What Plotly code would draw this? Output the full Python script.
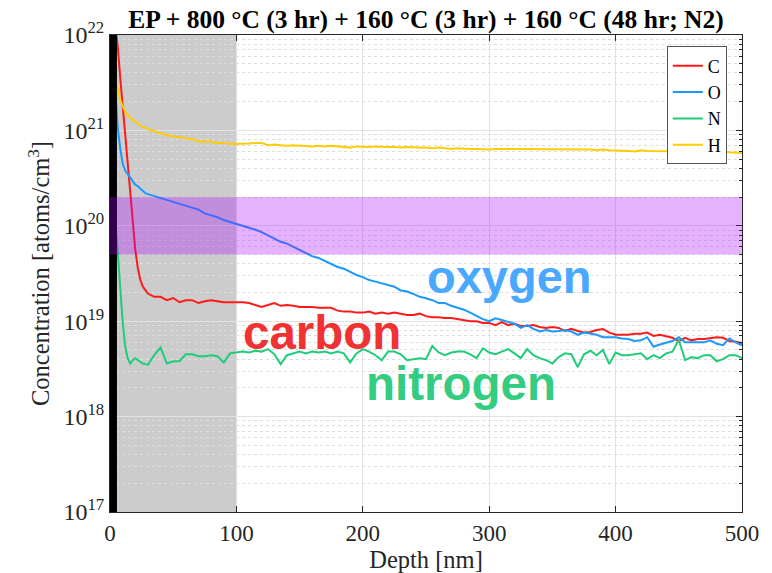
import plotly.graph_objects as go

# Depth grid [nm]
depth = [0, 2, 4, 6, 8, 10, 12, 14, 16, 18, 20, 22, 24, 26, 28, 30] + list(range(35, 505, 5))

carbon = [2e22, 1.8e22, 1.3e22, 7.9e21, 3.7e21, 1.9e21, 9.8e20, 4.6e20, 2.2e20, 1.2e20,
          5.6e19, 3.6e19, 2.7e19, 2.3e19, 2.1e19, 1.95e19,
          1.8e19, 1.8e19, 1.66e19, 1.75e19, 1.58e19, 1.66e19, 1.66e19, 1.55e19, 1.62e19, 1.66e19,
          1.62e19, 1.58e19, 1.58e19, 1.58e19,
          1.58e19, 1.55e19, 1.48e19, 1.41e19, 1.48e19, 1.55e19, 1.45e19, 1.48e19, 1.45e19, 1.41e19,
          1.41e19, 1.41e19, 1.38e19, 1.38e19, 1.38e19, 1.29e19, 1.26e19, 1.26e19, 1.23e19, 1.23e19,
          1.26e19, 1.2e19, 1.23e19, 1.2e19, 1.23e19, 1.2e19, 1.16e19, 1.16e19, 1.2e19, 1.13e19,
          1.1e19, 1.1e19, 1.08e19, 1.08e19, 1.05e19, 1.03e19, 1.0e19, 1.0e19, 9.6e18, 9.6e18,
          9.1e18, 9.8e18, 9.1e18, 9.4e18, 8.9e18, 8.9e18, 9.1e18, 8.7e18, 8.5e18, 8.7e18,
          8.5e18, 7.9e18, 8.3e18, 7.9e18, 7.6e18, 7.7e18, 8.1e18, 8.3e18, 7.6e18, 7.2e18,
          7.2e18, 7.2e18, 7.4e18, 7.4e18, 7.6e18, 7.0e18, 7.2e18, 7.0e18, 6.7e18, 6.2e18,
          6.7e18, 6.3e18, 6.5e18, 6.5e18, 6.7e18, 6.8e18, 6.7e18, 6.2e18, 6.1e18, 5.9e18]

oxygen = [1e22, 6e21, 3e21, 1.1e21, 6.6e20, 4.5e20, 3.8e20, 3.5e20, 3.2e20, 2.9e20,
          2.7e20, 2.6e20, 2.45e20, 2.3e20, 2.2e20, 2.15e20,
          2.05e20, 1.95e20, 1.86e20, 1.78e20, 1.7e20, 1.62e20, 1.55e20, 1.48e20, 1.35e20, 1.29e20,
          1.23e20, 1.15e20, 1.1e20, 1.05e20,
          1.0e20, 9.5e19, 9.1e19, 8.6e19, 7.9e19, 7.4e19, 6.8e19, 6.5e19, 6.0e19, 5.6e19,
          5.2e19, 4.8e19, 4.6e19, 4.3e19, 4.0e19, 3.7e19, 3.55e19, 3.3e19, 3.05e19, 2.9e19,
          2.7e19, 2.6e19, 2.5e19, 2.4e19, 2.3e19, 2.1e19, 2.05e19, 1.93e19, 1.8e19, 1.74e19,
          1.66e19, 1.55e19, 1.55e19, 1.45e19, 1.38e19, 1.32e19, 1.23e19, 1.13e19, 1.05e19, 1.0e19,
          1.07e19, 1.03e19, 9.8e18, 9.4e18, 8.5e18, 9.1e18, 8.3e18, 7.8e18, 8.1e18, 7.8e18,
          7.9e18, 8.1e18, 7.8e18, 7.2e18, 7.6e18, 7.4e18, 7.2e18, 6.8e18, 6.8e18, 6.8e18,
          6.6e18, 6.5e18, 6.2e18, 6.3e18, 6.8e18, 5.4e18, 5.7e18, 6.0e18, 6.2e18, 6.8e18,
          6.0e18, 6.0e18, 6.0e18, 6.0e18, 6.3e18, 5.8e18, 5.6e18, 6.6e18, 6.0e18, 5.6e18]

nitrogen = [3e20, 2e20, 1.2e20, 5.6e19, 2.3e19, 1.0e19, 5.4e18, 4.1e18, 3.6e18, 3.9e18,
            4.1e18, 3.9e18, 3.7e18, 3.6e18, 3.55e18, 3.5e18,
            4.4e18, 5.3e18, 3.6e18, 3.8e18, 3.8e18, 4.5e18, 4.5e18, 4.3e18, 4.3e18, 4.4e18,
            4.3e18, 3.7e18, 4.6e18, 4.7e18,
            4.8e18, 4.7e18, 4.9e18, 4.8e18, 5.1e18, 4.5e18, 3.55e18, 4.4e18, 4.6e18, 4.8e18,
            4.6e18, 4.8e18, 4.7e18, 4.8e18, 4.6e18, 4.8e18, 4.6e18, 3.7e18, 4.6e18, 5.1e18,
            4.8e18, 4.4e18, 3.9e18, 4.8e18, 4.8e18, 4.5e18, 3.9e18, 4.0e18, 4.1e18, 4.0e18,
            5.5e18, 4.7e18, 4.4e18, 4.7e18, 4.8e18, 4.8e18, 4.5e18, 4.1e18, 5.2e18, 4.7e18,
            4.5e18, 4.8e18, 5.1e18, 4.6e18, 4.1e18, 5.1e18, 4.4e18, 4.1e18, 3.9e18, 3.6e18,
            4.2e18, 4.6e18, 4.5e18, 3.3e18, 4.5e18, 4.9e18, 4.4e18, 5.0e18, 3.55e18, 4.7e18,
            4.4e18, 4.4e18, 4.5e18, 4.6e18, 4.0e18, 4.4e18, 4.1e18, 4.6e18, 4.8e18, 6.4e18,
            3.9e18, 4.2e18, 4.1e18, 4.4e18, 4.4e18, 3.8e18, 4.0e18, 4.4e18, 4.4e18, 4.1e18]

hydrogen = [9e21, 6e21, 4e21, 2.8e21, 2.1e21, 1.8e21, 1.55e21, 1.45e21, 1.35e21, 1.29e21,
            1.23e21, 1.17e21, 1.12e21, 1.09e21, 1.07e21, 1.03e21,
            9.8e20, 9.4e20, 8.9e20, 8.7e20, 8.5e20, 8.3e20, 8.1e20, 7.7e20, 7.7e20, 7.6e20,
            7.4e20, 7.4e20, 7.2e20, 7.2e20,
            7.2e20, 7.3e20, 7.4e20, 7.4e20, 7.0e20, 7.1e20, 7.0e20, 6.9e20, 7.0e20, 6.9e20,
            6.9e20, 6.8e20, 6.9e20, 6.8e20, 6.9e20, 6.8e20, 6.8e20, 6.6e20, 6.8e20, 6.7e20,
            6.7e20, 6.8e20, 6.7e20, 6.7e20, 6.7e20, 6.6e20, 6.7e20, 6.6e20, 6.6e20, 6.6e20,
            6.5e20, 6.6e20, 6.5e20, 6.4e20, 6.5e20, 6.4e20, 6.4e20, 6.4e20, 6.3e20, 6.3e20,
            6.4e20, 6.4e20, 6.3e20, 6.4e20, 6.3e20, 6.4e20, 6.3e20, 6.4e20, 6.4e20, 6.3e20,
            6.4e20, 6.3e20, 6.3e20, 6.4e20, 6.3e20, 6.3e20, 6.2e20, 6.3e20, 6.2e20, 6.2e20,
            6.1e20, 6.1e20, 6.0e20, 6.2e20, 6.1e20, 6.1e20, 6.0e20, 6.1e20, 6.0e20, 6.1e20,
            6.0e20, 6.0e20, 6.1e20, 6.0e20, 6.0e20, 5.9e20, 6.0e20, 5.9e20, 5.9e20, 5.8e20]

series_names = ["C", "O", "N", "H"]
series_colors = ["#ff1a1a", "#1a99ff", "#1fcc7a", "#ffcc00"]
series_values = [carbon, oxygen, nitrogen, hydrogen]

ytick_vals = [1e17, 1e18, 1e19, 1e20, 1e21, 1e22]
ytick_text = ["10<sup>17</sup>", "10<sup>18</sup>", "10<sup>19</sup>",
              "10<sup>20</sup>", "10<sup>21</sup>", "10<sup>22</sup>"]
xtick_vals = [0, 100, 200, 300, 400, 500]

serif = "Liberation Serif, Times New Roman, serif"
sans = "Liberation Sans, Arial, sans-serif"

fig = go.Figure()
for name, color, vals in zip(series_names, series_colors, series_values):
    fig.add_trace(go.Scatter(x=depth, y=vals, mode="lines", name=name,
                             line=dict(color=color, width=2)))

# gray region (0-100 nm), black surface band, purple band (5e19 - 2e20)
fig.add_shape(type="rect", xref="x", yref="paper", x0=0, x1=100, y0=0, y1=1,
              fillcolor="#cccccc", line_width=0, layer="between")
fig.add_shape(type="rect", xref="x", yref="paper", x0=0, x1=5.5, y0=0, y1=1,
              fillcolor="black", line_width=0, layer="above")
fig.add_shape(type="rect", xref="paper", yref="y", x0=0, x1=1, y0=5e19, y1=2e20,
              fillcolor="rgba(170,0,255,0.3)", line_width=0, layer="above")

# element labels
fig.add_annotation(x=316, y=19.47, text="<b>oxygen</b>", showarrow=False,
                   font=dict(family=sans, size=47, color="#4aa8ff"))
fig.add_annotation(x=168, y=18.88, text="<b>carbon</b>", showarrow=False,
                   font=dict(family=sans, size=47.5, color="#f03232"))
fig.add_annotation(x=278, y=18.35, text="<b>nitrogen</b>", showarrow=False,
                   font=dict(family=sans, size=47.5, color="#33cc80"))

fig.update_layout(
    width=764, height=565,
    margin=dict(l=102, r=30, t=27, b=61, autoexpand=False),
    paper_bgcolor="white", plot_bgcolor="white",
    title=dict(text="<b>EP + 800 °C (3 hr) + 160 °C (3 hr) + 160 °C (48 hr; N2)</b>",
               x=0.5, xref="paper", xanchor="center", y=0.981, yanchor="middle",
               font=dict(family=serif, size=25.5, color="black"), automargin=False),
    font=dict(family=serif, color="#262626"),
    legend=dict(x=0.881, y=0.976, xanchor="left", yanchor="top",
                bgcolor="white", bordercolor="#555555", borderwidth=1,
                font=dict(family=serif, size=18, color="black"),
                tracegroupgap=0, itemwidth=30),
    showlegend=True,
)

fig.update_xaxes(range=[0, 500], tickvals=xtick_vals, ticks="inside", ticklen=6,
                 tickcolor="#262626", showline=True, linecolor="#262626", linewidth=1,
                 mirror="ticks", showgrid=True, gridcolor="#e3e3e3", zeroline=False,
                 automargin=False,
                 tickfont=dict(family=serif, size=23, color="#262626"),
                 title=dict(text="Depth [nm]", font=dict(family=serif, size=24.5, color="#262626"),
                            standoff=0))
fig.update_yaxes(type="log", range=[17, 22], tickvals=ytick_vals, ticktext=ytick_text,
                 ticks="inside", ticklen=6, tickcolor="#262626",
                 showline=True, linecolor="#262626", linewidth=1, mirror="ticks",
                 showgrid=True, gridcolor="#e3e3e3", zeroline=False, automargin=False,
                 minor=dict(ticks="inside", ticklen=3, tickcolor="#262626", dtick="D1",
                            showgrid=True, gridcolor="#dddddd", griddash="dot"),
                 tickfont=dict(family=serif, size=24, color="#262626"),
                 title=dict(text="Concentration [atoms/cm<sup>3</sup>]",
                            font=dict(family=serif, size=24.5, color="#262626"), standoff=6))

fig.write_html("out.html")
